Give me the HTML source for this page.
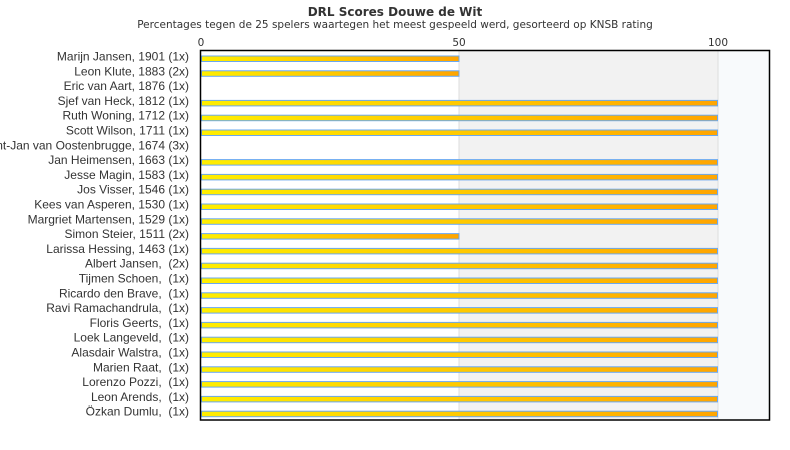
<!DOCTYPE html>
<html><head><meta charset="utf-8"><style>body{margin:0;background:#fff}svg{display:block}</style></head><body>
<svg width="790" height="450" xmlns="http://www.w3.org/2000/svg" font-family="'DejaVu Sans', 'Liberation Sans', sans-serif">
<defs><linearGradient id="g" x1="0" x2="1"><stop offset="0" stop-color="#ffee00"/><stop offset="1" stop-color="#ffa500"/></linearGradient></defs>
<text x="395" y="16" text-anchor="middle" font-size="12" font-weight="bold" fill="#333">DRL Scores Douwe de Wit</text>
<text x="395" y="28" text-anchor="middle" font-size="10.5" fill="#333">Percentages tegen de 25 spelers waartegen het meest gespeeld werd, gesorteerd op KNSB rating</text>
<rect x="459" y="50" width="259" height="370" fill="#f2f2f2"/>
<rect x="718" y="50" width="52" height="370" fill="#f8fafc"/>
<line x1="459" y1="50" x2="459" y2="420" stroke="#ddd"/>
<line x1="718" y1="50" x2="718" y2="420" stroke="#ddd"/>
<text x="201" y="46" text-anchor="middle" font-size="10.5" fill="#333">0</text>
<text x="459" y="46" text-anchor="middle" font-size="10.5" fill="#333">50</text>
<text x="718" y="46" text-anchor="middle" font-size="10.5" fill="#333">100</text>
<g font-family="'Liberation Sans', sans-serif" font-size="12" fill="#333" text-anchor="end">
<text x="189" y="60.5">Marijn Jansen, 1901 (1x)</text>
<text x="189" y="75.3">Leon Klute, 1883 (2x)</text>
<text x="189" y="90.1">Eric van Aart, 1876 (1x)</text>
<text x="189" y="104.9">Sjef van Heck, 1812 (1x)</text>
<text x="189" y="119.7">Ruth Woning, 1712 (1x)</text>
<text x="189" y="134.5">Scott Wilson, 1711 (1x)</text>
<text x="189" y="149.3">Sint-Jan van Oostenbrugge, 1674 (3x)</text>
<text x="189" y="164.1">Jan Heimensen, 1663 (1x)</text>
<text x="189" y="178.9">Jesse Magin, 1583 (1x)</text>
<text x="189" y="193.7">Jos Visser, 1546 (1x)</text>
<text x="189" y="208.5">Kees van Asperen, 1530 (1x)</text>
<text x="189" y="223.3">Margriet Martensen, 1529 (1x)</text>
<text x="189" y="238.1">Simon Steier, 1511 (2x)</text>
<text x="189" y="252.9">Larissa Hessing, 1463 (1x)</text>
<text x="189" y="267.7">Albert Jansen,&#160; (2x)</text>
<text x="189" y="282.5">Tijmen Schoen,&#160; (1x)</text>
<text x="189" y="297.3">Ricardo den Brave,&#160; (1x)</text>
<text x="189" y="312.1">Ravi Ramachandrula,&#160; (1x)</text>
<text x="189" y="326.9">Floris Geerts,&#160; (1x)</text>
<text x="189" y="341.7">Loek Langeveld,&#160; (1x)</text>
<text x="189" y="356.5">Alasdair Walstra,&#160; (1x)</text>
<text x="189" y="371.3">Marien Raat,&#160; (1x)</text>
<text x="189" y="386.1">Lorenzo Pozzi,&#160; (1x)</text>
<text x="189" y="400.9">Leon Arends,&#160; (1x)</text>
<text x="189" y="415.7">Özkan Dumlu,&#160; (1x)</text>
</g>
<g fill="url(#g)" stroke="#6aa8f0" stroke-width="1">
<rect x="201.5" y="56" width="257.5" height="5.5"/>
<rect x="201.5" y="70.8" width="257.5" height="5.5"/>
<rect x="201.5" y="100.4" width="516" height="5.5"/>
<rect x="201.5" y="115.2" width="516" height="5.5"/>
<rect x="201.5" y="130" width="516" height="5.5"/>
<rect x="201.5" y="159.6" width="516" height="5.5"/>
<rect x="201.5" y="174.4" width="516" height="5.5"/>
<rect x="201.5" y="189.2" width="516" height="5.5"/>
<rect x="201.5" y="204" width="516" height="5.5"/>
<rect x="201.5" y="218.8" width="516" height="5.5"/>
<rect x="201.5" y="233.6" width="257.5" height="5.5"/>
<rect x="201.5" y="248.4" width="516" height="5.5"/>
<rect x="201.5" y="263.2" width="516" height="5.5"/>
<rect x="201.5" y="278" width="516" height="5.5"/>
<rect x="201.5" y="292.8" width="516" height="5.5"/>
<rect x="201.5" y="307.6" width="516" height="5.5"/>
<rect x="201.5" y="322.4" width="516" height="5.5"/>
<rect x="201.5" y="337.2" width="516" height="5.5"/>
<rect x="201.5" y="352" width="516" height="5.5"/>
<rect x="201.5" y="366.8" width="516" height="5.5"/>
<rect x="201.5" y="381.6" width="516" height="5.5"/>
<rect x="201.5" y="396.4" width="516" height="5.5"/>
<rect x="201.5" y="411.2" width="516" height="5.5"/>
</g>
<rect x="200.5" y="50.5" width="569" height="369.5" fill="none" stroke="#000" stroke-width="1.5"/>
</svg>
</body></html>
